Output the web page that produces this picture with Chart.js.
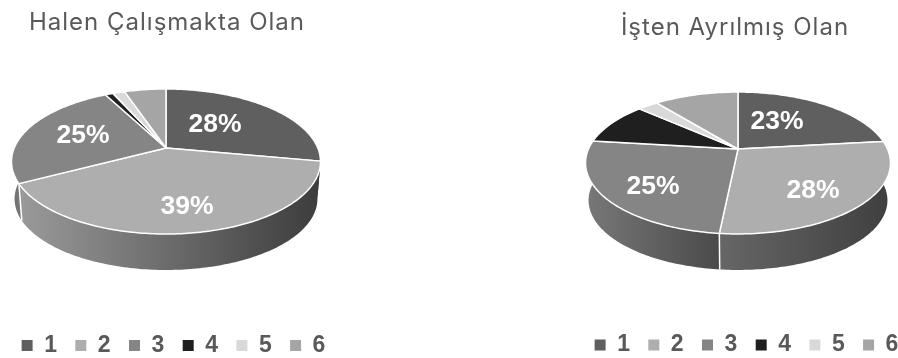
<!DOCTYPE html>
<html>
<head>
<meta charset="utf-8">
<title>Halen Çalışmakta / İşten Ayrılmış</title>
<script src="https://cdn.jsdelivr.net/npm/chart.js@4/dist/chart.umd.min.js"></script>
<style>
  html, body { margin: 0; padding: 0; background: #fff; overflow: hidden; }
  canvas { position: absolute; top: 0; }
  #pie-left { left: 0; }
  #pie-right { left: 538px; }
</style>
</head>
<body>
<canvas id="pie-left" width="360" height="358"></canvas>
<canvas id="pie-right" width="360" height="358"></canvas>
<script>
const categories = ['1', '2', '3', '4', '5', '6'];
const halenValues = [27.9, 39.4, 25.0, 1.0, 1.5, 5.2];
const ayrilmisValues = [23.2, 28.4, 25.3, 9.7, 2.6, 10.8];
const sliceColors = ['#5f5f5f', '#aeaeae', '#858585', '#1f1f1f', '#d9d9d9', '#a5a5a5'];

// --- perspective helpers ---
function project(shape, angle, bottom) {
    const u = Math.cos(angle), v = Math.sin(angle);
    const d = 1 - shape.k * v;
    const s = bottom ? shape.bottomScale : 1;
    return {
        x: shape.cx + shape.rx * s * u / d,
        y: shape.cy + (bottom ? shape.depth : 0) + shape.ry * s * v / d
    };
}

function rimPoints(shape, a0, a1, bottom) {
    const pts = [];
    const steps = Math.max(2, Math.ceil((a1 - a0) / (Math.PI / 180)));
    for (let i = 0; i <= steps; i++) {
        pts.push(project(shape, a0 + (a1 - a0) * i / steps, bottom));
    }
    return pts;
}

function drawWalls(ctx, shape, arcs) {
    const frontStart = -0.25, frontEnd = Math.PI + 0.25;
    arcs.forEach((arc, i) => {
        const a0 = Math.max(arc.startAngle, frontStart);
        const a1 = Math.min(arc.endAngle, frontEnd);
        if (a1 <= a0) return;
        const top = rimPoints(shape, a0, a1, false);
        const low = rimPoints(shape, a0, a1, true);
        const xs = top.concat(low).map(p => p.x);
        const stops = shape.wallStops[i] || ['#555555', '#555555'];
        const grad = ctx.createLinearGradient(Math.min(...xs), 0, Math.max(...xs), 0);
        grad.addColorStop(0, stops[0]);
        grad.addColorStop(1, stops[1]);
        ctx.beginPath();
        top.forEach((p, n) => n ? ctx.lineTo(p.x, p.y) : ctx.moveTo(p.x, p.y));
        low.reverse().forEach(p => ctx.lineTo(p.x, p.y));
        ctx.closePath();
        ctx.fillStyle = grad;
        ctx.fill();
    });
    // white seams where slices meet on the front wall
    ctx.strokeStyle = '#fff';
    ctx.lineWidth = 1.5;
    arcs.forEach(arc => {
        if (arc.endAngle <= 0.2 || arc.endAngle >= Math.PI + 0.25) return;
        const a = project(shape, arc.endAngle, false);
        const b = project(shape, arc.endAngle, true);
        ctx.beginPath();
        ctx.moveTo(a.x, a.y);
        ctx.lineTo(b.x, b.y);
        ctx.stroke();
    });
}

function drawTop(ctx, shape, arcs, colors) {
    arcs.forEach((arc, i) => {
        const pts = rimPoints(shape, arc.startAngle, arc.endAngle, false);
        ctx.beginPath();
        ctx.moveTo(shape.cx, shape.cy);
        pts.forEach(p => ctx.lineTo(p.x, p.y));
        ctx.closePath();
        ctx.fillStyle = colors[i];
        ctx.fill();
        ctx.strokeStyle = '#fff';
        ctx.lineWidth = 1.5;
        ctx.lineJoin = 'round';
        ctx.stroke();
    });
}

const pie3d = {
    id: 'pie3d',
    afterLayout(chart, args, opts) {
        // the title and the legend are not centred over the same x in the picture
        chart.titleBlock.left += opts.titleShift;
        chart.titleBlock.right += opts.titleShift;
        chart.legend.left += opts.legendShift;
        chart.legend.right += opts.legendShift;
        chart.legend.top += opts.legendDrop;
        chart.legend.bottom += opts.legendDrop;
    },
    beforeDraw(chart) {
        // title font runs wider than anything installed
        chart.ctx.letterSpacing = '1px';
    },
    beforeDatasetDraw(chart, args, opts) {
        const ctx = chart.ctx;
        const arcs = chart.getDatasetMeta(0).data;
        const values = chart.data.datasets[0].data;
        const colors = chart.data.datasets[0].backgroundColor;
        ctx.save();
        ctx.letterSpacing = '0px';
        drawWalls(ctx, opts, arcs);
        drawTop(ctx, opts, arcs, colors);
        ctx.fillStyle = '#fff';
        ctx.font = 'bold 26.5px "Liberation Sans"';
        ctx.textAlign = 'center';
        ctx.textBaseline = 'middle';
        opts.labelOffsets.forEach((off, i) => {
            ctx.fillText(Math.round(values[i]) + '%', opts.cx + off[0], opts.cy + off[1]);
        });
        ctx.restore();
        return false;
    }
};

function makePie(id, titleText, values, shape) {
    return new Chart(document.getElementById(id), {
        type: 'pie',
        data: {
            labels: categories,
            datasets: [{ data: values, backgroundColor: sliceColors, borderWidth: 0 }]
        },
        plugins: [pie3d],
        options: {
            responsive: false,
            animation: false,
            layout: { padding: 0 },
            plugins: {
                tooltip: { enabled: false },
                pie3d: shape,
                title: {
                    display: true,
                    text: titleText,
                    color: '#595959',
                    font: { family: 'Inter', size: 24, weight: 'normal' },
                    padding: { top: shape.titleTop, bottom: 0 }
                },
                legend: {
                    position: 'bottom',
                    labels: {
                        boxWidth: 11,
                        boxHeight: 11,
                        padding: 17.4,
                        color: '#595959',
                        font: { family: '"Liberation Sans"', size: 23, weight: 'bold' }
                    }
                }
            }
        }
    });
}

makePie('pie-left', 'Halen Çalışmakta Olan', halenValues, {
    cx: 166, cy: 148, rx: 151.8, ry: 70, k: 0.186, depth: 37.7, bottomScale: 0.98,
    titleShift: -13, legendShift: -9, legendDrop: 9, titleTop: 8,
    wallStops: [['#3c3c3c', '#3c3c3c'], ['#9a9a9a', '#3c3c3c'], ['#6a6a6a', '#8a8a8a']],
    labelOffsets: [[49, -23], [21, 59], [-83, -12]]
});

makePie('pie-right', 'İşten Ayrılmış Olan', ayrilmisValues, {
    cx: 200, cy: 149, rx: 149.5, ry: 68.2, k: 0.197, depth: 37.7, bottomScale: 0.98,
    titleShift: 17, legendShift: 26, legendDrop: 8.5, titleTop: 13,
    wallStops: [['#444444', '#444444'], ['#666666', '#3f3f3f'], ['#787878', '#4a4a4a']],
    labelOffsets: [[39, -27], [75, 42], [-85, 38]]
});
</script>
</body>
</html>
